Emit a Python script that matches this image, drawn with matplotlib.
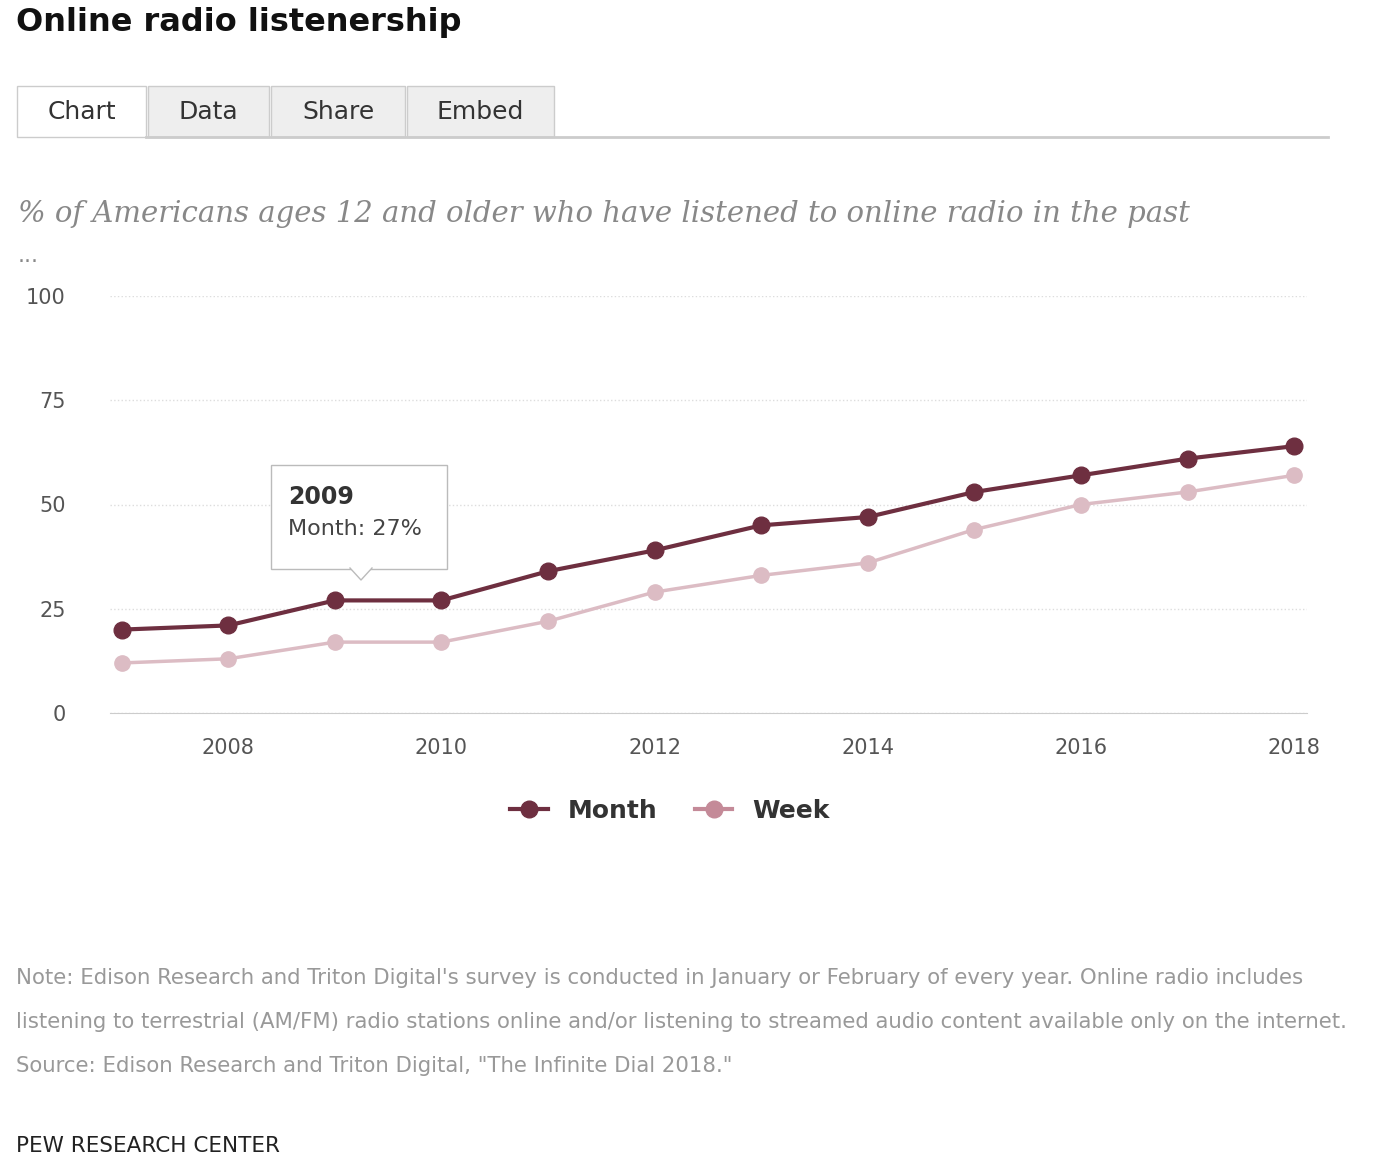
import matplotlib
matplotlib.use("Agg")
import matplotlib.pyplot as plt
from matplotlib.patches import Rectangle, Polygon
from matplotlib.lines import Line2D

years = [2007, 2008, 2009, 2010, 2011, 2012, 2013, 2014, 2015, 2016, 2017, 2018]
month = [20, 21, 27, 27, 34, 39, 45, 47, 53, 57, 61, 64]
week = [12, 13, 17, 17, 22, 29, 33, 36, 44, 50, 53, 57]
yticks = [0, 25, 50, 75, 100]
xticks = [2008, 2010, 2012, 2014, 2016, 2018]

W, H = 1399, 1167
fig = plt.figure(figsize=(W/100, H/100), dpi=100)
fig.patch.set_facecolor("white")

def fx(x): return x / W
def fy(y): return 1 - y / H

MC = "#6e2f40"
WC = "#dcbcc4"

ax = fig.add_axes([fx(110), fy(713), fx(1307) - fx(110), fy(296) - fy(713)])
ax.plot(years, week, color=WC, lw=2.5, marker="o", ms=11, zorder=2)
ax.plot(years, month, color=MC, lw=3, marker="o", ms=12, zorder=3)
ax.set_xlim(2006.89, 2018.12)
ax.set_ylim(0, 100)
ax.set_yticks(yticks)
ax.set_xticks(xticks)
ax.grid(axis="y", color="#dddddd", ls=":", lw=1)
for s in ["top", "right", "left"]:
    ax.spines[s].set_visible(False)
ax.spines["bottom"].set_color("#cccccc")
ax.tick_params(length=0, labelsize=15, colors="#555555")
ax.tick_params(axis="x", pad=18)
ax.tick_params(axis="y", pad=32)
ax.set_axisbelow(True)

# tooltip
tb = fig.add_axes([0, 0, 1, 1], facecolor="none")
tb.set_xlim(0, W); tb.set_ylim(H, 0); tb.axis("off")
tb.add_patch(Rectangle((271, 465), 176, 104, fc="white", ec="#bbbbbb", lw=1, zorder=5))
tb.add_patch(Polygon([[350, 568], [372, 568], [361, 580]], closed=True, fc="white", ec="none", zorder=6))
tb.plot([350, 361, 372], [568, 580, 568], color="#bbbbbb", lw=1, zorder=6)
fig.text(fx(288), fy(497), "2009", fontsize=17, fontweight="bold", color="#333333", va="center")
fig.text(fx(288), fy(529), "Month: 27%", fontsize=16, color="#444444", va="center")

# title & tabs
fig.text(fx(16), fy(22), "Online radio listenership", fontsize=23, fontweight="bold", color="#111111", va="center")
tabs = [("Chart", 17, 146), ("Data", 148, 269), ("Share", 271, 405), ("Embed", 407, 554)]
for i, (t, x0, x1) in enumerate(tabs):
    fc = "white" if i == 0 else "#eeeeee"
    tb.add_patch(Rectangle((x0, 86), x1 - x0, 51, fc=fc, ec="#cccccc", lw=1))
    fig.text(fx((x0 + x1) / 2), fy(112), t, fontsize=18, color="#333333", ha="center", va="center")
tb.plot([146, 1328], [137, 137], color="#cccccc", lw=2)

fig.text(fx(18), fy(214), "% of Americans ages 12 and older who have listened to online radio in the past",
         fontsize=21, style="italic", family="DejaVu Serif", color="#888888", va="center")
fig.text(fx(18), fy(256), "...", fontsize=16, color="#888888", va="center")

# legend
handles = [Line2D([], [], color=MC, lw=3, marker="o", ms=12),
           Line2D([], [], color="#c48a98", lw=3, marker="o", ms=12)]
fig.legend(handles, ["Month", "Week"], loc="center", bbox_to_anchor=(fx(670), fy(811)),
           ncol=2, frameon=False, prop={"size": 18, "weight": "bold"}, handlelength=1.5,
           columnspacing=1.5, labelcolor="#333333")

notes = ["Note: Edison Research and Triton Digital's survey is conducted in January or February of every year. Online radio includes",
         "listening to terrestrial (AM/FM) radio stations online and/or listening to streamed audio content available only on the internet.",
         "Source: Edison Research and Triton Digital, \"The Infinite Dial 2018.\""]
for i, n in enumerate(notes):
    fig.text(fx(16), fy(978 + 44 * i), n, fontsize=15.3, color="#999999", va="center")
fig.text(fx(16), fy(1146), "PEW RESEARCH CENTER", fontsize=15.5, color="#222222", va="center")

fig.savefig("out.png", dpi=100)
